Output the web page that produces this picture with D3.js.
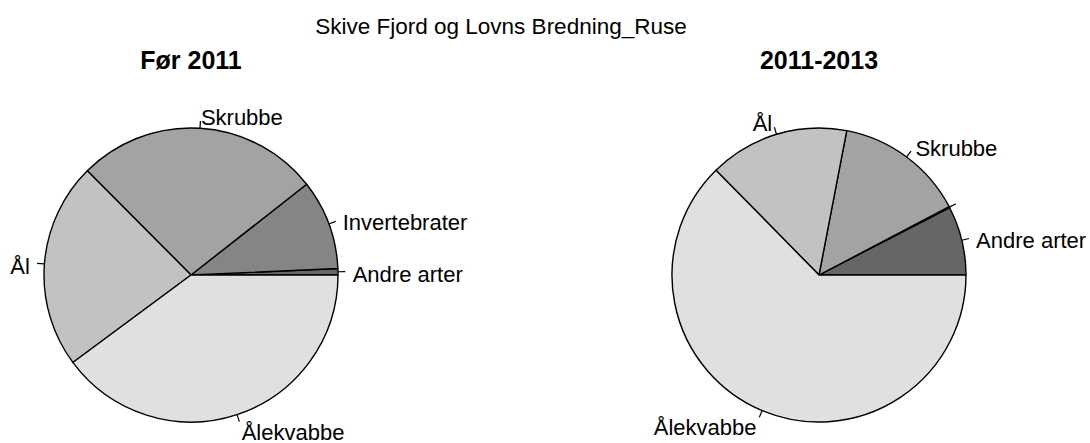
<!DOCTYPE html>
<html>
<head>
<meta charset="utf-8">
<script src="https://cdn.jsdelivr.net/npm/d3@7"></script>
<style>
  body { margin: 0; background: #fff; }
  text { font-family: "Liberation Sans", Arial, sans-serif; fill: #000; }
</style>
</head>
<body>
<svg id="chart"></svg>
<script>
// data (percent of catch)
const categories = ["Andre arter", "Invertebrater", "Skrubbe", "Ål", "Ålekvabbe"];
const before2011 = [0.7, 9.9, 26.9, 22.7, 39.9];
const after2011 = [7.6, 0.1, 14.3, 15.4, 62.7];
const labelsBefore = ["Andre arter", "Invertebrater", "Skrubbe", "Ål", "Ålekvabbe"];
const labelsAfter = ["Andre arter", "", "Skrubbe", "Ål", "Ålekvabbe"];
const sliceColors = ["#666666", "#858585", "#a3a3a3", "#c2c2c2", "#e0e0e0"];

const mainTitle = "Skive Fjord og Lovns Bredning_Ruse";
const panelTitles = ["Før 2011", "2011-2013"];

const width = 1090;
const height = 443;
const radius = 147;

const svg = d3.select("#chart")
    .attr("width", width)
    .attr("height", height);

svg.append("text")
    .attr("x", 501)
    .attr("y", 34)
    .attr("text-anchor", "middle")
    .style("font-size", "22.5px")
    .text(mainTitle);

const color = d3.scaleOrdinal().domain(categories).range(sliceColors);

// R style pie: start at 3 o'clock, counterclockwise
const pie = d3.pie()
    .sort(null)
    .value(d => d.value)
    .startAngle(Math.PI / 2)
    .endAngle(Math.PI / 2 - 2 * Math.PI);

const arc = d3.arc().innerRadius(0).outerRadius(radius);

function drawPie(cx, title, values, labels) {
    const g = svg.append("g").attr("transform", `translate(${cx},275)`);

    svg.append("text")
        .attr("x", cx)
        .attr("y", 69)
        .attr("text-anchor", "middle")
        .style("font-size", "25px")
        .style("font-weight", "bold")
        .text(title);

    const rows = categories.map((c, i) => ({ cat: c, value: values[i], label: labels[i] }));
    const arcs = pie(rows);

    g.selectAll("path")
        .data(arcs)
        .join("path")
        .attr("d", arc)
        .attr("fill", d => color(d.data.cat))
        .attr("stroke", "#000")
        .attr("stroke-width", 1.4)
        .attr("stroke-linejoin", "round");

    arcs.forEach(d => {
        const mid = (d.startAngle + d.endAngle) / 2;
        const sx = Math.sin(mid), sy = -Math.cos(mid);
        if (d.data.value > 0) {
            g.append("line")
                .attr("x1", sx * radius).attr("y1", sy * radius)
                .attr("x2", sx * radius * 1.05).attr("y2", sy * radius * 1.05)
                .attr("stroke", "#000")
                .attr("stroke-width", 1.2);
        }
        if (d.data.label) {
            g.append("text")
                .attr("x", sx * radius * 1.1)
                .attr("y", sy * radius * 1.1)
                .attr("dy", "0.5em")
                .attr("text-anchor", sx >= 0 ? "start" : "end")
                .style("font-size", "22px")
                .text(d.data.label);
        }
    });
}

drawPie(191, panelTitles[0], before2011, labelsBefore);
drawPie(819, panelTitles[1], after2011, labelsAfter);
</script>
</body>
</html>
